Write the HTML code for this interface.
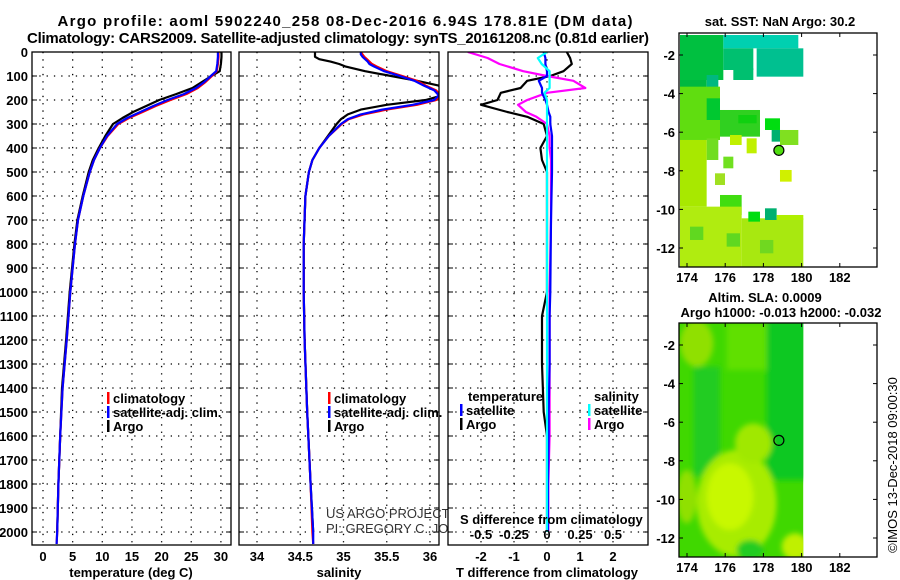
<!DOCTYPE html>
<html><head><meta charset="utf-8"><style>
html,body{margin:0;padding:0;background:#fff;}
svg{display:block;font-family:"Liberation Sans",Arial,sans-serif;}
.b{font-weight:bold;font-size:13px;}
</style></head><body>
<svg id="fig" width="900" height="580" viewBox="0 0 900 580" xmlns="http://www.w3.org/2000/svg">
<defs>
<clipPath id="c1"><rect x="32" y="52" width="199" height="493"/></clipPath>
<clipPath id="c2"><rect x="239" y="52" width="200" height="493"/></clipPath>
<clipPath id="c3"><rect x="448" y="52" width="200" height="493"/></clipPath>
</defs>
<text x="345" y="26" text-anchor="middle" font-weight="bold" font-size="15" textLength="575">Argo profile: aoml 5902240_258 08-Dec-2016 6.94S 178.81E (DM data)</text>
<text x="338" y="43" text-anchor="middle" font-weight="bold" font-size="15" textLength="622">Climatology: CARS2009. Satellite-adjusted climatology: synTS_20161208.nc (0.81d earlier)</text>
<g id="panels"></g>
<g id="maps"></g>
</svg>
<script>
// ---------- data ----------
const depthTicks = [0,100,200,300,400,500,600,700,800,900,1000,1100,1200,1300,1400,1500,1600,1700,1800,1900,2000];
const tempTicks = [0,5,10,15,20,25,30];
const salTicks = [34,34.5,35,35.5,36];
const salTickLabels = ["34","34.5","35","35.5","36"];
const tdTicks = [-2,-1,0,1,2];
const sdTicks = [-0.5,-0.25,0,0.25,0.5];
const sdTickLabels = ["-0.5","-0.25","0","0.25","0.5"];

const depthT = [0,20,50,80,100,125,150,175,200,225,250,275,300,350,400,450,500,600,700,800,1000,1200,1400,1600,1800,2000,2050];
const tempClim = [29.6,29.6,29.5,29.3,28.5,27.4,26.1,24.2,21.5,19.0,16.8,14.5,12.7,10.9,9.6,8.6,7.9,6.8,5.9,5.4,4.6,4.0,3.3,2.9,2.6,2.4,2.3];
const tempSat = [29.5,29.5,29.4,29.2,28.3,27.2,25.8,23.8,21.0,18.6,16.4,14.2,12.5,10.8,9.6,8.6,7.9,6.8,5.9,5.4,4.6,4.0,3.3,2.9,2.6,2.4,2.3];
const tempArgo = [30.1,30.1,30.0,29.8,28.4,26.8,25.2,22.5,19.6,17.4,15.2,13.4,11.8,10.5,9.4,8.4,7.7,6.7,5.8,5.3,4.5,3.9,3.2,2.9,2.6,2.4,null];

const depthS = [0,10,20,30,40,50,60,80,100,120,140,160,180,200,220,240,260,280,300,350,400,450,500,600,800,1000,1200,1500,1800,2000,2050];
const salArgo = [34.67,34.67,34.67,34.72,34.85,34.95,35.02,35.25,35.55,35.85,36.1,36.15,36.15,35.95,35.5,35.2,35.05,34.97,34.92,34.82,34.72,34.64,34.6,34.56,34.54,34.54,34.55,34.58,34.62,34.65,null];
const salClim = [35.2,35.22,35.24,35.27,35.3,35.33,35.38,35.5,35.68,35.85,35.95,36.07,36.12,36.07,35.85,35.5,35.23,35.06,34.98,34.83,34.72,34.64,34.6,34.56,34.54,34.54,34.55,34.58,34.62,34.64,34.65];
const salSat = [35.2,35.2,35.22,35.25,35.28,35.3,35.35,35.47,35.65,35.82,35.93,36.05,36.1,36.05,35.8,35.45,35.2,35.05,34.97,34.83,34.72,34.64,34.6,34.56,34.54,34.54,34.55,34.58,34.62,34.65,34.65];

const depthD = [0,25,50,80,100,120,150,170,200,220,250,270,300,350,400,450,500,700,1000,1100,1300,1500,1600,1800,2000];
const tDiffArgo = [0.6,0.7,0.75,0.5,0.1,-0.6,-0.8,-1.4,-1.5,-2.0,-1.2,-0.6,-0.1,0,-0.2,-0.15,0,0,0,-0.15,-0.15,-0.1,0,0,0];
const sDiffArgo = [-0.6,-0.45,-0.36,-0.18,0,0.2,0.29,0,-0.15,-0.22,-0.16,-0.08,0,0.02,0.02,0.03,0.03,0.03,0.02,0.02,0.02,0.02,0.02,0.01,0.01];
const tDiffSat = [-0.1,-0.05,-0.05,0,0,-0.25,-0.15,-0.15,-0.05,0,0.05,0.1,0.1,0.15,0.15,0.15,0.15,0.12,0.1,0.08,0.08,0.05,0.05,0.03,0.03];
const sDiffSat = [0,-0.07,-0.04,0.02,0.02,0.02,0.02,-0.02,0,0,0,0,0,0,0,0,0,0,0,0,0,0,0,0,0];

const mapLatTicks = [-2,-4,-6,-8,-10,-12];
const mapLonTicks = [174,176,178,180,182];
const argoLon = 178.81, argoLat = -6.94;

// ---------- helpers ----------
const NS = "http://www.w3.org/2000/svg";
function mk(tag, attrs, parent){const e=document.createElementNS(NS,tag);for(const k in attrs)e.setAttribute(k,attrs[k]);parent.appendChild(e);return e;}
const panelsG = document.getElementById('panels');
const PY0 = 52, PY1 = 545;
const yD = d => PY0 + d*0.24;

function line(xs, ds, xf, color, name, parent, w){
  let pts=[];
  for(let i=0;i<xs.length;i++){ if(xs[i]===null||xs[i]===undefined) continue; pts.push(xf(xs[i]).toFixed(1)+','+yD(ds[i]).toFixed(1)); }
  const p = mk('polyline',{points:pts.join(' '),fill:'none',stroke:color,'stroke-width':w||2.2,'stroke-linejoin':'round'},parent);
  
  
}

function panel(x0,x1,name,vticks,xf,labels,showDepth){
  const g = mk('g',{},panelsG);
  
  
  mk('rect',{x:x0,y:PY0,width:x1-x0,height:PY1-PY0,fill:'#fff'},g);
  const grid = mk('g',{stroke:'#000','stroke-width':1.3,'stroke-dasharray':'1.3,6'},g);
  
  
  depthTicks.forEach(d=>{ if(d>0) mk('line',{x1:x0,x2:x1,y1:yD(d),y2:yD(d)},grid);
    mk('line',{x1:x0,x2:x0+5,y1:yD(d),y2:yD(d),stroke:'#000'},g);
    mk('line',{x1:x1-5,x2:x1,y1:yD(d),y2:yD(d),stroke:'#000'},g);
  });
  vticks.forEach((v,i)=>{ const x=xf(v); mk('line',{x1:x,x2:x,y1:PY0,y2:PY1},grid);
    if(labels){ const t=mk('text',{x:x,y:561,'text-anchor':'middle',class:'b'},g); t.textContent=labels[i];
      
       }
  });
  if(showDepth){ depthTicks.forEach(d=>{ const t=mk('text',{x:28,y:yD(d)+5,'text-anchor':'end',class:'b'},g); t.textContent=d;
    
     }); }
  return g;
}
function border(g,x0,x1){ mk('rect',{x:x0,y:PY0,width:x1-x0,height:PY1-PY0,fill:'none',stroke:'#000','stroke-width':1.3},g); }
function txt(g,x,y,s,name,extra){ const t=mk('text',Object.assign({x:x,y:y,class:'b'},extra||{}),g); t.textContent=s;   return t; }
function legItem(g,x,y,color,s,name){ mk('rect',{x:x,y:y-11,width:2.5,height:12,fill:color},g); txt(g,x+6,y,s,name); }

// ---------- panel 1: temperature ----------
const xT = v => 43 + v*5.93;
const g1 = panel(32,231,'temperature-panel',tempTicks,xT,tempTicks.map(String),true);
const l1 = mk('g',{'clip-path':'url(#c1)'},g1);
line(tempArgo.filter(v=>v!==null),depthT.filter((d,i)=>tempArgo[i]!==null),xT,'#000','argo-temperature-line',l1);
line(tempClim,depthT,xT,'#f00','climatology-temperature-line',l1);
line(tempSat,depthT,xT,'#00f','satellite-temperature-line',l1);
legItem(g1,107,403,'#f00','climatology','legend-climatology');
legItem(g1,107,417,'#00f','satellite-adj. clim.','legend-satellite');
legItem(g1,107,431,'#000','Argo','legend-argo');
border(g1,32,231);
txt(g1,131,577,'temperature (deg C)','x-axis-title-temperature',{'text-anchor':'middle'});

// ---------- panel 2: salinity ----------
const xS = v => 257 + (v-34)*86.5;
const g2 = panel(239,439,'salinity-panel',salTicks,xS,salTickLabels,false);
const l2 = mk('g',{'clip-path':'url(#c2)'},g2);
line(salArgo.filter(v=>v!==null),depthS.filter((d,i)=>salArgo[i]!==null),xS,'#000','argo-salinity-line',l2);
line(salClim,depthS,xS,'#f00','climatology-salinity-line',l2);
line(salSat,depthS,xS,'#00f','satellite-salinity-line',l2);
legItem(g2,328,403,'#f00','climatology','legend-climatology-2');
legItem(g2,328,417,'#00f','satellite-adj. clim.','legend-satellite-2');
legItem(g2,328,431,'#000','Argo','legend-argo-2');
border(g2,239,439);
txt(g2,339,577,'salinity','x-axis-title-salinity',{'text-anchor':'middle'});
const cr1 = txt(g2,326,518,'US ARGO PROJECT','credit-project',{'font-weight':'normal','font-size':'13',fill:'#333'}); cr1.removeAttribute('class');
const cr2 = txt(g2,326,533,'PI: GREGORY C. JOHNSON','credit-pi',{'font-weight':'normal','font-size':'13',fill:'#333'}); cr2.removeAttribute('class');

// ---------- panel 3: differences ----------
const xTd = v => 547 + v*33;
const xSd = v => 547 + v*132;
const g3 = panel(448,648,'difference-panel',tdTicks,xTd,tdTicks.map(String),false);
const l3 = mk('g',{'clip-path':'url(#c3)'},g3);
line(tDiffArgo,depthD,xTd,'#000','argo-temperature-difference-line',l3);
line(sDiffArgo,depthD,xSd,'#f0f','argo-salinity-difference-line',l3);
line(tDiffSat,depthD,xTd,'#00f','satellite-temperature-difference-line',l3);
line(sDiffSat,depthD,xSd,'#0ff','satellite-salinity-difference-line',l3);
txt(g3,468,401,'temperature','legend-title-temperature');
legItem(g3,460,415,'#00f','satellite','legend-t-satellite');
legItem(g3,460,429,'#000','Argo','legend-t-argo');
txt(g3,594,401,'salinity','legend-title-salinity');
legItem(g3,588,415,'#0ff','satellite','legend-s-satellite');
legItem(g3,588,429,'#f0f','Argo','legend-s-argo');
txt(g3,460,524,'S difference from climatology','s-axis-title');
sdTicks.forEach((v,i)=>{ txt(g3,xSd(v),539,sdTickLabels[i],'s-tick-label',{'text-anchor':'middle'}); });
border(g3,448,648);
txt(g3,547,577,'T difference from climatology','x-axis-title-t-difference',{'text-anchor':'middle'});

// ---------- maps ----------
const mapsG = document.getElementById('maps');
const MX0=679, MX1=877;
const lonX = lon => 687 + (lon-174)*19.1;
function mapFrame(name){
  const g=mk('g',{},mapsG);  
  return g;
}
function mapAxes(g,top,bottom,latY){
  mk('rect',{x:MX0,y:top,width:MX1-MX0,height:bottom-top,fill:'none',stroke:'#000','stroke-width':1.3},g);
  mapLatTicks.forEach(l=>{ const y=latY(l); mk('line',{x1:MX0,x2:MX0+4,y1:y,y2:y,stroke:'#000'},g); mk('line',{x1:MX1-4,x2:MX1,y1:y,y2:y,stroke:'#000'},g);
    txt(g,675,y+5,String(l),'map-lat-label',{'text-anchor':'end'}); });
  mapLonTicks.forEach(l=>{ const x=lonX(l); mk('line',{x1:x,x2:x,y1:top,y2:top+4,stroke:'#000'},g); mk('line',{x1:x,x2:x,y1:bottom-4,y2:bottom,stroke:'#000'},g);
    txt(g,x,bottom+15,String(l),'map-lon-label',{'text-anchor':'middle'}); });
}
// SST map
const sstLatY = lat => 55 + (-2-lat)*19.3;
const gm1 = mapFrame('sst-map');
txt(gm1,780,26,'sat. SST: NaN Argo: 30.2','sst-map-title',{'text-anchor':'middle'});
const cells1 = mk('g',{transform:'translate(660,20) scale(0.3333)'},gm1);
[[60,45,190,180,'#00c040'],[190,45,415,85,'#00d0b0'],[190,85,280,150,'#00c070'],[290,85,430,170,'#00c090'],[220,145,280,180,'#00c070'],
 [60,180,140,215,'#00b840'],[140,165,175,215,'#00b880'],[60,200,180,360,'#60dd10'],[140,235,180,300,'#00c830'],[180,270,300,350,'#30d020'],
 [235,285,290,310,'#10d010'],[315,295,360,330,'#00dd10'],[335,330,370,365,'#00b070'],[360,330,415,375,'#80e020'],[210,345,245,375,'#c0f000'],
 [260,355,290,400,'#c0f000'],[140,355,175,420,'#70dd20'],[60,360,140,560,'#a8e800'],[190,410,220,445,'#70e020'],[165,460,195,495,'#a0e020'],
 [180,525,245,585,'#40dd10'],[360,450,395,485,'#d0f000'],[60,560,245,740,'#b0ec10'],[245,595,430,740,'#a8e810'],[265,575,300,605,'#00dd10'],
 [315,565,350,600,'#00b070'],[350,585,430,600,'#b0f000'],[90,620,130,660,'#60d820'],[200,640,240,680,'#60d820'],[300,660,340,700,'#70d820']
].forEach(c=>{ const r=mk('rect',{x:c[0],y:c[1],width:c[2]-c[0],height:c[3]-c[1],fill:c[4]},cells1);   });
const m1 = mk('circle',{cx:lonX(argoLon),cy:sstLatY(argoLat),r:5,fill:'#50dd10',stroke:'#000','stroke-width':1.2},gm1);
 
mapAxes(gm1,33,267,sstLatY);

// Altimetry map
const altLatY = lat => 345 + (-2-lat)*19.3;
const gm2 = mapFrame('altimetry-map');
txt(gm2,765,302,'Altim. SLA: 0.0009','altim-map-title',{'text-anchor':'middle'});
txt(gm2,781,317,'Argo h1000: -0.013 h2000: -0.032','altim-map-subtitle',{'text-anchor':'middle'});
mk('defs',{},gm2).innerHTML='<filter id="bl"><feGaussianBlur stdDeviation="8"/></filter><clipPath id="cp"><rect x="58" y="100" width="372" height="700"/></clipPath>';
const cells2 = mk('g',{transform:'translate(660,290) scale(0.3333)'},gm2);
const cg = mk('g',{'clip-path':'url(#cp)'},cells2);
mk('rect',{x:58,y:100,width:372,height:700,fill:'#40d800'},cg);
const bg = mk('g',{filter:'url(#bl)'},cg);
[['rect',{x:320,y:90,width:120,height:480,fill:'#10c820'}],['rect',{x:100,y:230,width:80,height:330,fill:'#20cc20'}],
 ['ellipse',{cx:110,cy:160,rx:50,ry:70,fill:'#90e000'}],['rect',{x:200,y:100,width:120,height:140,fill:'#60e000'}],
 ['ellipse',{cx:230,cy:640,rx:120,ry:160,fill:'#a8ec00'}],['ellipse',{cx:210,cy:620,rx:70,ry:100,fill:'#c8f800'}],
 ['ellipse',{cx:280,cy:460,rx:55,ry:60,fill:'#a0e800'}],['ellipse',{cx:80,cy:620,rx:30,ry:80,fill:'#90e000'}],
 ['ellipse',{cx:405,cy:770,rx:40,ry:40,fill:'#c0f000'}],['ellipse',{cx:270,cy:780,rx:40,ry:30,fill:'#20cc20'}]
].forEach(s=>{ const e=mk(s[0],s[1],bg);   });
const m2 = mk('circle',{cx:lonX(argoLon),cy:altLatY(argoLat),r:5,fill:'none',stroke:'#000','stroke-width':1.2},gm2);
 
mapAxes(gm2,323,557,altLatY);

const cp = txt(mapsG,0,0,'©IMOS 13-Dec-2018 09:00:30','imos-credit',{'font-weight':'normal','font-size':'13','text-anchor':'middle',transform:'translate(897,465) rotate(-90)'});
cp.removeAttribute('class');
</script>
</body></html>
